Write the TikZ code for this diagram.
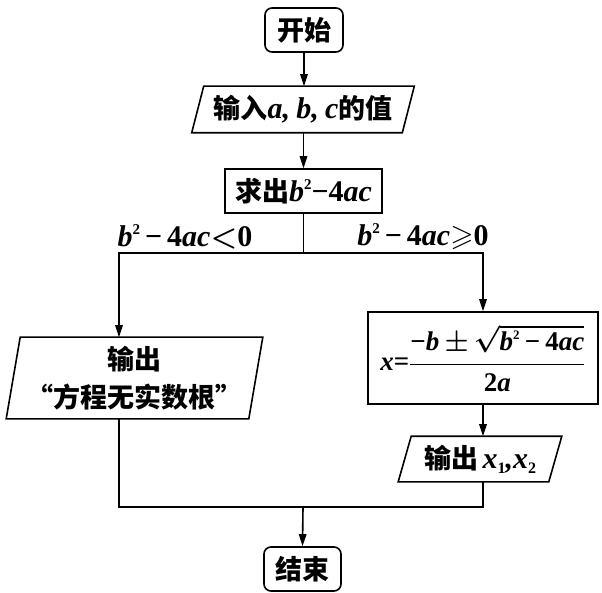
\RequirePackage{fix-cm}
\documentclass[tikz,border=0pt]{standalone}
\usepackage{amsmath,amssymb}
\usepackage{fontspec}
\newfontfamily\cjk{Noto Sans CJK SC}
\newfontfamily\tms{Liberation Serif}
\newcommand\ltr[2][30]{\mbox{\fontsize{#1}{#1}\selectfont\tms\bfseries\itshape #2}}
\newcommand\dgt[2][30]{\mbox{\fontsize{#1}{#1}\selectfont\tms\bfseries #2}}
\newcommand\bsqr[3]{\ltr[#1]{b}\raisebox{#3}{\dgt[#2]{2}}}
\usetikzlibrary{arrows.meta}
\begin{document}
\begin{tikzpicture}[x=1pt,y=-1pt,line width=1.6pt,
  base/.style={inner sep=0pt,font=\fontsize{27}{38}\selectfont\cjk\bfseries\boldmath,align=center},
  term/.style={base,draw,rounded corners=7pt},
  proc/.style={base,draw},
  io/.style={base},
  lbl/.style={inner sep=0pt,font=\fontsize{30}{30}\selectfont\boldmath},
  arr/.style={-{Triangle[length=12pt,width=7.5pt]}}]
\useasboundingbox (0,0) rectangle (602,593);
% nodes
\node[term,minimum width=78pt,minimum height=44pt] (start) at (304,30) {开始};
\node[io,minimum width=209pt,minimum height=45pt] (in) at (303,109.5) {输入\ltr{a,} \ltr{b,} \ltr{c}的值};
\node[proc,minimum width=157pt,minimum height=44pt] (calc) at (303.5,191) {求出\bsqr{30}{15}{12pt}\dgt{−4}\ltr{ac}};
\node[io,minimum width=241pt,minimum height=80pt] (no) at (134.5,378) {输出\\“方程无实数根”};
\node[proc,minimum width=230pt,minimum height=92pt,font=\fontsize{27}{28}\selectfont\boldmath] (formula) at (483,358)
  {$\ltr[27]{x}\dgt[27]{=}\dfrac{\dgt[27]{−}\ltr[27]{b}\,{\pm}\,\sqrt{\bsqr{27}{13}{11pt}\,\dgt[27]{−}\,\dgt[27]{4}\ltr[27]{ac}}}{\dgt[27]{2}\ltr[27]{a}}$};
\node[io,minimum width=149pt,minimum height=44pt] (out) at (480,459) {输出\,\ltr{x}\raisebox{-5pt}{\dgt[16]{1}}\ltr{,}\ltr{x}\raisebox{-5pt}{\dgt[16]{2}}};
\node[term,minimum width=77pt,minimum height=44pt] (end) at (302.5,569) {结束};
% parallelograms
\draw ([xshift=6pt]in.north west) -- ([xshift=6pt]in.north east) -- ([xshift=-6pt]in.south east) -- ([xshift=-6pt]in.south west) -- cycle;
\draw ([xshift=7pt]no.north west) -- ([xshift=7pt]no.north east) -- ([xshift=-7pt]no.south east) -- ([xshift=-7pt]no.south west) -- cycle;
\draw ([xshift=6.5pt]out.north west) -- ([xshift=6.5pt]out.north east) -- ([xshift=-6.5pt]out.south east) -- ([xshift=-6.5pt]out.south west) -- cycle;
% labels
\node[lbl] (lno) at (185,237) {\bsqr{30}{15}{12pt}\,\dgt{−}\,\dgt{4}\ltr{ac}$<$\dgt{0}};
\node[lbl] (lyes) at (423,237) {\bsqr{30}{15}{12pt}\,\dgt{−}\,\dgt{4}\ltr{ac}$\geqslant$\dgt{0}};
% junctions
\coordinate (bc) at (303.5,253);
\coordinate (bl) at (119,253);
\coordinate (br) at (483,253);
\coordinate (ml) at (119,507);
\coordinate (mr) at (483,507);
\coordinate (mc) at (303,507);
% connectors
\draw[arr] (start.south) -- (start.south |- in.north);
\draw[arr] (in.south -| calc.north) -- (calc.north);
\draw (calc.south) -- (bc);
\draw[arr] (bc) -- (bl) -- (bl |- no.north);
\draw[arr] (bc) -- (br) -- (formula.north);
\draw[arr] (formula.south) -- (formula.south |- out.north);
\draw (ml |- no.south) -- (ml) -- (mr) -- (mr |- out.south);
\draw[arr] (mc) -- (end.north);
\end{tikzpicture}
\end{document}
